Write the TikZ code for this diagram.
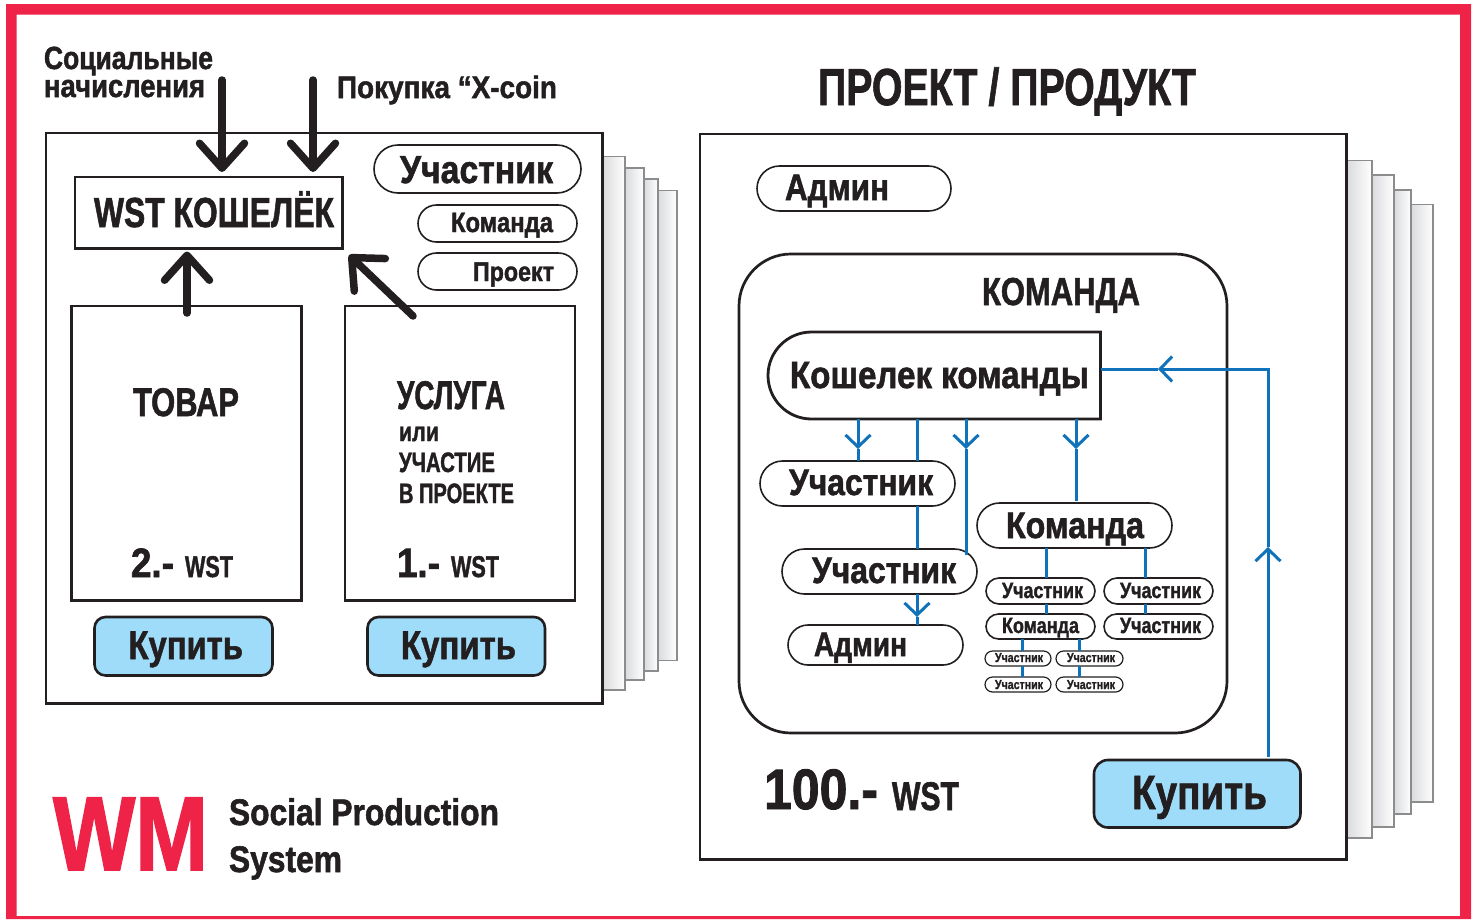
\documentclass[tikz,border=0pt]{standalone}
\usepackage{graphicx}
\usepackage{fontspec}
\setmainfont{Liberation Sans}[BoldFeatures={FakeBold=1.6}]
\usetikzlibrary{arrows.meta,shapes.misc}
\definecolor{ink}{HTML}{231F20}
\definecolor{wmred}{HTML}{EE2347}
\definecolor{wmblue}{HTML}{1072BA}
\definecolor{btn}{HTML}{9EDCF9}
\definecolor{pageedge}{HTML}{8A8C8E}
\definecolor{pageshade}{HTML}{DADBDD}
\tikzset{
  box/.style={draw=ink,line width=2.7pt,rectangle,inner sep=0pt,outer sep=0pt},
  pill/.style={draw=ink,line width=1.6pt,rounded rectangle,inner sep=0pt,outer sep=0pt},
  pillthin/.style={draw=ink,line width=1.2pt,rounded rectangle,inner sep=0pt,outer sep=0pt},
  buybtn/.style={draw=ink,line width=2.6pt,fill=btn,rectangle,rounded corners=11pt,inner sep=0pt,outer sep=0pt},
  teambox/.style={draw=ink,line width=2.7pt,rectangle,rounded corners=52pt,inner sep=0pt,outer sep=0pt},
  walletbox/.style={draw=ink,line width=2.8pt,rounded rectangle,rounded rectangle right arc=none,inner sep=0pt,outer sep=0pt},
  lbl/.style={anchor=base west,inner sep=0pt,outer sep=0pt,text=ink,font=\bfseries},
  page/.style={draw=pageedge,line width=1.2pt,left color=pageshade,right color=white},
  bigarrow/.style={draw=ink,line width=7.5pt,line cap=round,-{Straight Barb[length=25pt,width=45pt,round,line width=7.5pt]}},
  blueline/.style={draw=wmblue,line width=3pt},
  bluearrow/.style={draw=wmblue,line width=3pt,-{Straight Barb[length=12pt,width=25pt,line width=3pt]}}
}
% name, left x, right x, baseline, size, text
\newcommand{\tx}[6]{\node[lbl] (#1) at (#2,#4) {\resizebox{\dimexpr#3pt-#2pt\relax}{\height}{\fontsize{#5}{#5}\selectfont\bfseries #6}};}
% style, name, x1, y1, x2, y2
\newcommand{\bx}[6]{\node[#1,minimum width={(#5-#3)*1pt},minimum height={(#6-#4)*1pt}] (#2) at ({(#3+#5)/2},{(#4+#6)/2}) {};}
\begin{document}
\begin{tikzpicture}[x=1pt,y=-1pt]
\useasboundingbox (0,0) rectangle (1475,919);
\fill[white] (0,0) rectangle (1475,919);
\fill[wmred,even odd rule] (6,4) rectangle (1471,919) (16.5,14.7) rectangle (1460,916);

% page stacks
\draw[page] (658,190.5) rectangle (677,660.5);
\draw[page] (644,179) rectangle (658,671);
\draw[page] (625,168) rectangle (644,680);
\draw[page] (603,156.5) rectangle (625,690);
\draw[page] (1411,204.7) rectangle (1433,802);
\draw[page] (1394,190) rectangle (1411,814);
\draw[page] (1372,175) rectangle (1394,827);
\draw[page] (1347,160.7) rectangle (1372,838);

% left card
\bx{box,fill=white}{leftcard}{46}{133}{602.5}{703.5}
\bx{box}{wallet}{75}{177}{342.5}{248.5}
\bx{pill}{pA}{374}{145}{581}{193}
\bx{pill}{pB}{418}{205}{577}{242}
\bx{pill}{pC}{418}{253}{577}{290}
\bx{box}{goods}{71.5}{306}{301.5}{600.5}
\bx{box}{service}{345}{306}{575}{600.5}
\bx{buybtn}{buyA}{94.5}{617}{272.5}{675.5}
\bx{buybtn}{buyB}{367.5}{617}{545}{675.5}

\tx{t1}{44}{213}{69}{32}{Социальные}
\tx{t2}{44}{205}{97}{32}{начисления}
\tx{t3}{337}{557}{98}{31}{Покупка “X-coin}
\tx{t4}{94}{334}{227}{42}{WST КОШЕЛЁК}
\tx{t5}{400}{553}{183}{39}{Участник}
\tx{t6}{451}{553}{232}{28}{Команда}
\tx{t7}{473}{554}{281}{27}{Проект}
\tx{t8}{133}{239}{416}{40}{ТОВАР}
\tx{t9}{397}{505}{409}{40}{УСЛУГА}
\tx{t10}{399}{439}{441}{27}{или}
\tx{t11}{399}{495}{472}{28}{УЧАСТИЕ}
\tx{t12}{399}{514}{503}{28}{В ПРОЕКТЕ}
\tx{t13}{131}{174}{577}{41}{2.-}
\tx{t14}{185}{233}{577}{30}{WST}
\tx{t15}{397}{440}{577}{41}{1.-}
\tx{t16}{451}{499}{577}{30}{WST}
\tx{t17}{128.5}{243}{659}{40}{Купить}
\tx{t18}{401}{516}{659}{40}{Купить}

% logo
\node[lbl,text=wmred] (wm) at (53,870) {\resizebox{155pt}{\height}{\fontsize{105}{105}\selectfont\bfseries WM}};
\tx{t19}{229}{499}{825}{37}{Social Production}
\tx{t20}{229}{342}{872}{37}{System}

% right card
\tx{t21}{818}{1196}{105}{52}{ПРОЕКТ / ПРОДУКТ}
\bx{box,fill=white}{rightcard}{700}{134}{1346.5}{859.5}
\bx{pill}{admTop}{757}{166}{951}{211}
\tx{t22}{785}{889}{200}{37}{Админ}
\bx{teambox}{team}{739}{254}{1227}{733}
\tx{t23}{982}{1140}{305}{39}{КОМАНДА}
\bx{walletbox}{kosh}{768}{332}{1100.5}{419}
\tx{t24}{790}{1089}{388}{38}{Кошелек команды}
\bx{pill}{u1}{760}{461}{955}{506}
\tx{t25}{789}{933}{495}{37}{Участник}
\bx{pill}{u2}{782}{549}{977}{594}
\tx{t26}{812}{956}{583}{37}{Участник}
\bx{pill}{adm}{788}{625}{963}{665}
\tx{t27}{814}{907}{656}{34}{Админ}
\bx{pill}{cmd}{977}{503}{1172}{548}
\tx{t28}{1006}{1144}{538}{37}{Команда}
\bx{pill}{s1}{986}{578}{1095}{604}
\tx{t29}{1002}{1083}{598}{22}{Участник}
\bx{pill}{s2}{1104}{578}{1213}{604}
\tx{t30}{1120}{1201}{598}{22}{Участник}
\bx{pill}{s3}{986}{614}{1095}{639}
\tx{t31}{1002}{1079}{633}{22}{Команда}
\bx{pill}{s4}{1104}{614}{1213}{639}
\tx{t32}{1120}{1201}{633}{22}{Участник}
\bx{pillthin}{m1}{985}{651}{1051}{666}
\tx{t33}{995}{1043}{662}{13}{Участник}
\bx{pillthin}{m2}{1056}{651}{1123}{666}
\tx{t34}{1067}{1115}{662}{13}{Участник}
\bx{pillthin}{m3}{985}{677}{1051}{692}
\tx{t35}{995}{1043}{689}{13}{Участник}
\bx{pillthin}{m4}{1056}{677}{1123}{692}
\tx{t36}{1067}{1115}{689}{13}{Участник}
\tx{t37}{764}{878}{809}{57}{100.-}
\tx{t38}{892}{959}{810}{40}{WST}
\bx{buybtn,rounded corners=14pt}{buyC}{1094}{760}{1300.5}{827.5}
\tx{t39}{1132}{1267}{809}{48}{Купить}

% blue connectors
\draw[bluearrow] (kosh.south -| 858,0) -- (858,449);
\draw[blueline] (858,449) -- (u1.north -| 858,0);
\draw[blueline] (kosh.south -| 917,0) -- (u1.north -| 917,0);
\draw[blueline] (u1.south -| 917,0) -- (u2.north -| 917,0);
\draw[bluearrow] (u2.south -| 917,0) -- (917,617);
\draw[blueline] (917,617) -- (adm.north -| 917,0);
\draw[bluearrow] (kosh.south -| 966,0) -- (966,449);
\draw[blueline] (966,449) -- (966,555);
\draw[bluearrow] (kosh.south -| 1076,0) -- (1076,449);
\draw[blueline] (1076,449) -- (1076,501);
\draw[blueline] (cmd.south -| 1046,0) -- (s1.north -| 1046,0);
\draw[blueline] (s1.south -| 1046,0) -- (s3.north -| 1046,0);
\draw[blueline] (cmd.south -| 1145,0) -- (s2.north -| 1145,0);
\draw[blueline] (s2.south -| 1145,0) -- (s4.north -| 1145,0);
\draw[blueline] (s3.south -| 1022,0) -- (m1.north -| 1022,0);
\draw[blueline] (m1.south -| 1022,0) -- (m3.north -| 1022,0);
\draw[blueline] (s3.south -| 1079,0) -- (m2.north -| 1079,0);
\draw[blueline] (m2.south -| 1079,0) -- (m4.north -| 1079,0);
\draw[bluearrow] (1268,757) -- (1268,547);
\draw[bluearrow] (1268,547) -- (1268,369) -- (1158,369);
\draw[blueline] (1158,369) -- (kosh.east |- 0,369);

% black arrows
\coordinate (srcA) at (222,80);
\coordinate (srcB) at (313,80);
\coordinate (srcC) at (187,313);
\coordinate (srcD) at (413,316);
\draw[bigarrow,shorten >=5pt] (srcA) -- (wallet.north -| srcA);
\draw[bigarrow,shorten >=5pt] (srcB) -- (wallet.north -| srcB);
\draw[bigarrow,shorten >=3pt] (srcC) -- (wallet.south -| srcC);
\draw[bigarrow] (srcD) -- (349,255);
\end{tikzpicture}
\end{document}
